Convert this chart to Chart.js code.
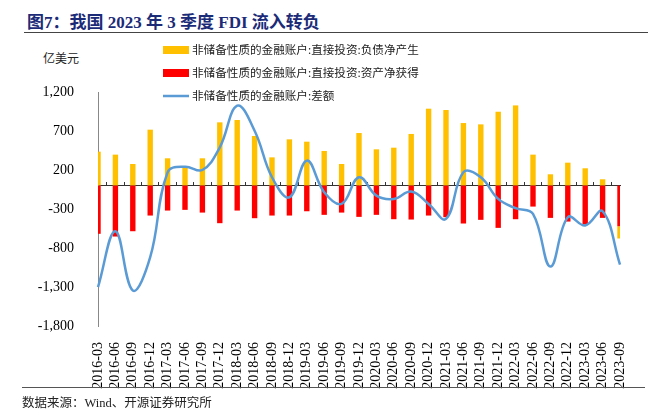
<!DOCTYPE html>
<html>
<head>
<meta charset="utf-8">
<script src="https://cdn.jsdelivr.net/npm/chart.js@4/dist/chart.umd.min.js"></script>
<style>
  body { margin: 0; background: #fff; }
  #wrap { position: relative; width: 657px; height: 412px; overflow: hidden; }
  #c { position: absolute; left: 0; top: 0; }
  .title { position: absolute; left: 24px; top: 8px; width: 621px; height: 24px;
           border-bottom: 1.5px solid #444; font: bold 17px "Liberation Serif", "Noto Sans CJK SC";
           color: #1c2b78; padding-left: 3px; box-sizing: content-box; }
  .unit { position: absolute; left: 43px; top: 49px; font: 12px "Noto Sans CJK SC"; color: #222; }
  .source { position: absolute; left: 22px; top: 387px; width: 623px; border-top: 1px solid #555;
            padding-top: 4px; font: 12.5px "Liberation Serif", "Noto Sans CJK SC"; color: #222; }
</style>
</head>
<body>
<div id="wrap">
  <div class="title">图7：我国 2023 年 3 季度 FDI 流入转负</div>
  <div class="unit">亿美元</div>
  <canvas id="c" width="657" height="412"></canvas>
  <div class="source">数据来源：Wind、开源证券研究所</div>
</div>
<script>
var quarters = ['2016-03','2016-06','2016-09','2016-12','2017-03','2017-06','2017-09','2017-12',
  '2018-03','2018-06','2018-09','2018-12','2019-03','2019-06','2019-09','2019-12',
  '2020-03','2020-06','2020-09','2020-12','2021-03','2021-06','2021-09','2021-12',
  '2022-03','2022-06','2022-09','2022-12','2023-03','2023-06','2023-09'];

// 直接投资：负债净产生
var fdiLiab = [435, 397, 277, 717, 350, 235, 350, 811, 841, 636, 362, 593, 563, 444, 277, 674,
  465, 486, 662, 986, 969, 802, 785, 947, 1028, 397, 145, 294, 222, 81, -157];
// 直接投资：资产净获得
var fdiAsset = [-618, -653, -585, -384, -320, -311, -346, -482, -320, -418, -384, -384, -329, -375, -346, -401,
  -375, -431, -435, -384, -405, -486, -439, -542, -431, -269, -414, -461, -499, -414, -521];
// 非储备性质的金融账户：差额
var balance = [-1302, -585, -1345, -918, 170, 243, 200, 490, 1024, 704, 107, -150, 320, -85, -235, 107,
  -128, -171, -77, -235, -427, 171, 107, -171, -290, -363, -1038, -406, -512, -329, -1012];

var yTicks = [-1800, -1300, -800, -300, 200, 700, 1200];

var serif = '"Liberation Serif", "Noto Sans CJK SC"';

var sideLegend = {
  id: 'sideLegend',
  afterDraw: function(chart) {
    var ctx = chart.ctx;
    chart.data.datasets.forEach(function(ds, i) {
      var y = 50 + i * 23;
      ctx.save();
      if (ds.type === 'line') {
        ctx.strokeStyle = ds.borderColor;
        ctx.lineWidth = 2.5;
        ctx.beginPath();
        ctx.moveTo(163, y);
        ctx.lineTo(189, y);
        ctx.stroke();
      } else {
        ctx.fillStyle = ds.backgroundColor;
        ctx.fillRect(163, y - 4, 26, 8);
      }
      ctx.fillStyle = '#222';
      ctx.font = '11.6px "Noto Sans CJK SC"';
      ctx.textBaseline = 'middle';
      ctx.fillText(ds.label, 192, y);
      ctx.restore();
    });
  }
};

var ctx = document.getElementById('c').getContext('2d');
var chart = new Chart(ctx, {
  type: 'bar',
  data: {
    labels: quarters,
    datasets: [{
      label: '非储备性质的金融账户:直接投资:负债净产生',
      data: fdiLiab,
      backgroundColor: '#FFC000',
      order: 2,
      stack: 'fdi',
      barPercentage: 0.31,
      categoryPercentage: 1
    }, {
      label: '非储备性质的金融账户:直接投资:资产净获得',
      data: fdiAsset,
      backgroundColor: '#FF0000',
      order: 1,
      stack: 'fdi',
      barPercentage: 0.31,
      categoryPercentage: 1
    }, {
      type: 'line',
      label: '非储备性质的金融账户:差额',
      data: balance,
      borderColor: '#5B9BD5',
      backgroundColor: '#5B9BD5',
      borderWidth: 2.5,
      pointRadius: 0,
      tension: 0.4,
      order: 0,
      stack: 'line',
      clip: false
    }]
  },
  options: {
    responsive: false,
    animation: false,
    layout: { padding: { left: 0, right: 37, top: 92, bottom: 0 } },
    plugins: { legend: { display: false }, tooltip: { enabled: false } },
    scales: {
      x: {
        stacked: true,
        offset: false,
        grid: { display: false },
        border: { display: false },
        ticks: { autoSkip: false, maxRotation: 90, minRotation: 90, padding: 8,
                 color: '#000', font: { family: serif, size: 14 } },
        afterFit: function(s) { s.height = 86; }
      },
      x2: {
        type: 'category',
        position: { y: 0 },
        offset: false,
        grid: { drawOnChartArea: false, offset: true, tickLength: -4, color: '#333' },
        border: { display: true, color: '#333', width: 1 },
        ticks: { display: false }
      },
      y: {
        stacked: true,
        min: -1800,
        max: 1200,
        afterBuildTicks: function(s) { s.ticks = yTicks.map(function(v) { return { value: v }; }); },
        grid: { display: false },
        border: { display: true, color: '#888', width: 1 },
        ticks: { padding: 16, color: '#000', font: { family: serif, size: 14 },
                 callback: function(v) { return v.toLocaleString('en-US'); } },
        afterFit: function(s) { s.width = 98; }
      }
    }
  },
  plugins: [sideLegend]
});
</script>
</body>
</html>
